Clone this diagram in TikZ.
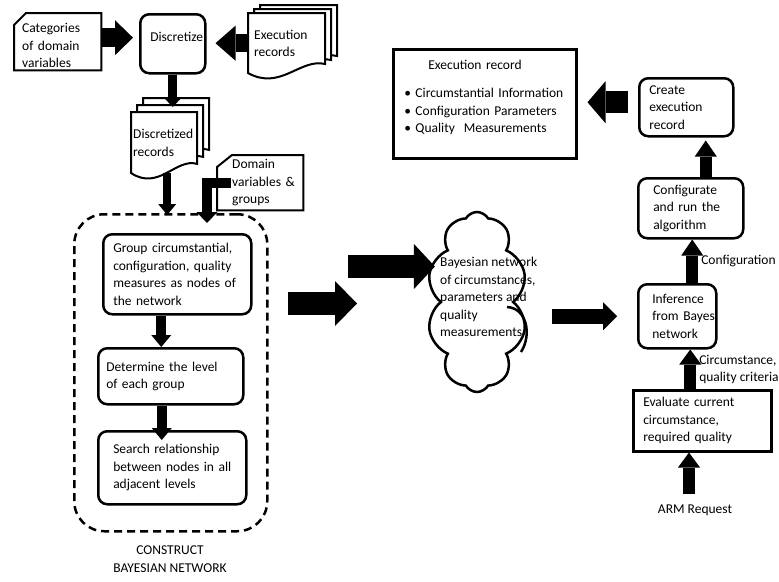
\documentclass[tikz,border=0pt]{standalone}
\usepackage{fontspec}
\setmainfont{Carlito}
\usetikzlibrary{arrows.meta,shapes.symbols}

\tikzset{
  box/.style={draw, line width=2.5pt, rounded corners=9pt, align=left,
    inner xsep=0pt, inner ysep=3pt, anchor=north west},
  sqbox/.style={box, sharp corners},
  plain/.style={align=left, inner sep=0pt, anchor=north west},
  lpad/.style={execute at begin node={\leftskip=#1}},
  topgap/.style={execute at end node={\par\vspace*{#1}}},
  page/.style={fill=white, line width=2pt},
  card/.style={line width=2pt},
  fat/.style args={#1/#2/#3}{line width=#1,
    -{Triangle[length=#3, width=#2, line width=0pt]}},
  lbl/.style={anchor=west, inner sep=0pt, outer sep=0pt, align=left},
}

% one sheet with a wavy lower edge
\newcommand{\docpage}[4]{%
  \filldraw[page] (#1,#2) -- ({#1+#3},#2) -- ({#1+#3},{#2+0.85*#4})
    .. controls ({#1+0.68*#3},{#2+0.75*#4}) and ({#1+0.42*#3},{#2+1.3*#4}) .. (#1,{#2+#4}) -- cycle;}

\begin{document}
\begin{tikzpicture}[x=1pt, y=-1pt, font=\fontsize{13.5}{17.5}\selectfont]
    \useasboundingbox (0,0) rectangle (779,581);

    % stacks of records
    \docpage{260}{5}{77}{60}
    \docpage{254}{9}{77}{60}
    \docpage{248}{13}{77}{60}
    \docpage{143}{98}{66}{61}
    \docpage{137}{105}{66}{61}
    \docpage{131}{112}{66}{61}

    % left part
    \node[plain, text width=87pt, minimum height=57pt, lpad=8pt, topgap=-8pt] (cat) at (14,13) {Categories\\of domain\\variables};
    \draw[card] ([yshift=-12pt]cat.north west) -- ([xshift=12pt]cat.north west) -- (cat.north east) -- (cat.south east) -- (cat.south west) -- cycle;

    \node[box, minimum height=59pt, text width=65pt, lpad=10pt, topgap=14pt] (disc) at (139,13) {Discretize};
    \node[plain, text width=77pt, minimum height=60pt, lpad=6pt] (exrec) at (248,13) {Execution\\records};
    \node[plain, text width=66pt, minimum height=61pt, lpad=2pt] (drec) at (131,112) {Discretized\\records};

    \node[plain, text width=86pt, minimum height=55pt, lpad=15pt] (dom) at (217,155) {Domain\\variables \&\\groups};
    \draw[card] ([yshift=-12pt]dom.north west) -- ([xshift=15pt]dom.north west) -- (dom.north east) -- (dom.south east) -- (dom.south west) -- cycle;

    \node[draw, dashed, dash pattern=on 8pt off 5pt, line width=2.5pt, rounded corners=30pt,
          minimum width=193pt, minimum height=317pt, anchor=north west] (cbn) at (73,213) {};
    \node[plain, anchor=north, align=center] (cbnlbl) at (170,546) {CONSTRUCT\\BAYESIAN NETWORK};

    \node[box, minimum height=80pt, text width=148pt, lpad=10pt] (group) at (102,233) {Group circumstantial,\\configuration, quality\\measures as nodes of\\the network};
    \node[box, minimum height=56pt, text width=145pt, lpad=8pt] (det) at (97,347) {Determine the level\\of each group};
    \node[box, minimum height=73pt, text width=148pt, lpad=15pt] (search) at (97,430) {Search relationship\\between nodes in all\\adjacent levels};

    % cloud
    \node[cloud, draw, line width=2.5pt, cloud puffs=10, cloud puff arc=120, cloud ignores aspect,
          minimum width=100pt, minimum height=180pt] (bn) at (477,302) {};
    \draw[line width=2.5pt] (507,307) .. controls (527,308) and (532,335) .. (521,352);
    \node[plain] (bntxt) at (440,257) {Bayesian network\\of circumstances,\\parameters and\\quality\\measurements};

    % right part
    \node[sqbox, minimum height=109pt, text width=183pt, lpad=11pt, topgap=13pt] (exbox) at (392,48)
        {\hspace*{24pt}Execution record\\[11pt]\textbullet\ Circumstantial Information\\\textbullet\ Configuration Parameters\\\textbullet\ Quality\ \ Measurements};
    \node[box, minimum height=58pt, text width=94pt, lpad=10pt] (create) at (638,77) {Create\\execution\\record};
    \node[box, minimum height=60pt, text width=105pt, lpad=15pt] (conf) at (637,177) {Configurate\\and run the\\algorithm};
    \node[box, minimum height=64pt, text width=78pt, lpad=14pt] (inf) at (637,283) {Inference\\from Bayes\\network};
    \node[sqbox, minimum height=61pt, text width=138pt, lpad=10pt] (eval) at (632,389) {Evaluate current\\circumstance,\\required quality};
    \node[plain, anchor=center, align=center] (arm) at (695,510) {ARM Request};

    % connectors
    \draw[fat=19pt/35pt/18pt, shorten >=6pt] ([yshift=4pt]cat.east) -- ([yshift=4pt]cat.east -| disc.west);
    \draw[fat=18pt/35pt/20pt, shorten >=9pt] (exrec.west) -- (exrec.west -| disc.east);
    \draw[fat=9pt/19pt/10pt, shorten >=5pt] (disc.south) -- (disc.south |- drec.north);
    \draw[fat=8pt/18pt/11pt, shorten >=-2pt] ([xshift=3pt]drec.south) -- ([xshift=3pt]drec.south |- cbn.north);
    \coordinate (domin) at (207,223);
    \draw[fat=10pt/21pt/11pt] ([xshift=14pt]dom.west) -| (domin);

    \draw[fat=10pt/20pt/12pt] ([xshift=-16pt]group.south) -- ([xshift=-16pt]group.south |- det.north);
    \draw[fat=10pt/20pt/12pt, shorten >=-10pt] ([xshift=-9pt]det.south) -- ([xshift=-9pt]det.south |- search.north);

    \coordinate (lowtip) at (357,303.5);
    \draw[fat=23pt/45pt/22pt, shorten <=19pt] (cbn.east |- lowtip) -- (lowtip);
    \coordinate (uptail) at (348,266.5);
    \draw[fat=23pt/45pt/21pt, shorten >=4pt] (uptail) -- (uptail -| bn.west);
    \draw[fat=15pt/28pt/14pt, shorten <=37pt, shorten >=20pt] (bn.east |- inf.west) -- (inf.west);

    \draw[fat=12pt/22pt/15pt, shorten <=10pt] ([xshift=-6pt]arm.north) -- ([xshift=-6pt]arm.north |- eval.south);
    \draw[fat=12pt/22pt/15pt] ([xshift=-12pt]eval.north) -- ([xshift=-12pt]eval.north |- inf.south)
        node[midway, lbl, xshift=9pt] (lblcirc) {Circumstance,\\quality criteria};
    \draw[fat=12pt/22pt/16pt] ([xshift=15pt]inf.north) -- ([xshift=15pt]inf.north |- conf.south)
        node[midway, lbl, xshift=9pt] (lblconf) {Configuration};
    \draw[fat=12pt/22pt/16pt, shorten >=3pt] ([xshift=15pt]conf.north) -- ([xshift=15pt]conf.north |- create.south);
    \draw[fat=22pt/42pt/18pt, shorten <=10pt, shorten >=10pt] ([yshift=5pt]create.west) -- ([yshift=5pt]create.west -| exbox.east);
\end{tikzpicture}
\end{document}
